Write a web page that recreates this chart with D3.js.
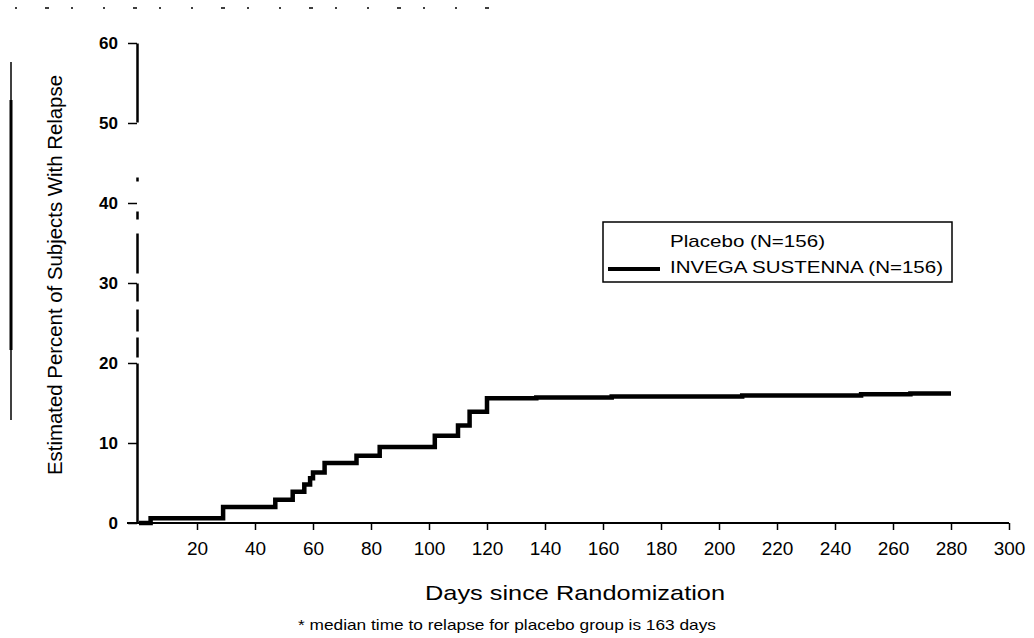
<!DOCTYPE html>
<html>
<head>
<meta charset="utf-8">
<script src="https://cdn.jsdelivr.net/npm/d3@7"></script>
<style>
  body { margin: 0; background: #fff; }
  text { font-family: Arial, "Liberation Sans", sans-serif; fill: #000; }
</style>
</head>
<body>
<div id="chart"></div>
<script>
// Kaplan-Meier steps (only the INVEGA curve is visible)
const days = [0, 4, 29, 47, 53, 57, 59, 60, 64, 75, 83, 102, 110, 114, 120, 137, 163, 208, 249, 266, 280];
const relapsePct = [0, 0.6, 2.0, 2.9, 3.9, 4.8, 5.6, 6.3, 7.5, 8.4, 9.5, 10.9, 12.2, 13.9, 15.6, 15.7, 15.8, 15.95, 16.1, 16.2, 16.2];

const xTicks = [20, 40, 60, 80, 100, 120, 140, 160, 180, 200, 220, 240, 260, 280, 300];
const yTicks = [0, 10, 20, 30, 40, 50, 60];
const legendLabels = ["Placebo (N=156)", "INVEGA SUSTENNA (N=156)"];

const width = 1034;
const height = 638;

const svg = d3.select("#chart")
    .append("svg")
    .attr("width", width)
    .attr("height", height);

const xScale = d3.scaleLinear()
    .domain([0, 300])
    .range([139, 1009]);

const yScale = d3.scaleLinear()
    .domain([0, 60])
    .range([523, 43]);

// scan artefacts: dotted header row and left margin rule
svg.append("line")
    .attr("x1", 15).attr("x2", 490)
    .attr("y1", 8).attr("y2", 8)
    .attr("stroke", "#000")
    .attr("stroke-width", 1.5)
    .attr("stroke-dasharray", "2 28 4 22 2 30");
svg.append("line")
    .attr("x1", 11).attr("x2", 11)
    .attr("y1", 62).attr("y2", 420)
    .attr("stroke", "#000")
    .attr("stroke-width", 1.5);
svg.append("line")
    .attr("x1", 11).attr("x2", 11)
    .attr("y1", 100).attr("y2", 350)
    .attr("stroke", "#000")
    .attr("stroke-width", 3);

// y axis
const yAxis = d3.axisLeft(yScale)
    .tickValues(yTicks)
    .tickSize(9)
    .tickSizeOuter(0)
    .tickPadding(10);

const gy = svg.append("g")
    .attr("class", "y-axis")
    .attr("transform", "translate(137,0)")
    .call(yAxis);
gy.select(".domain")
    .attr("stroke-width", 2.5)
    .attr("stroke-dasharray", "160 6 20 6 22 8 18 10 40 14 8 30 4 55 200");
gy.selectAll(".tick line").attr("stroke-width", 1.5);
gy.selectAll(".tick text")
    .style("font-size", "17px")
    .style("font-weight", "bold")
    .attr("font-family", null);

// x axis
svg.append("line")
    .attr("x1", 127).attr("x2", xScale(300))
    .attr("y1", yScale(0)).attr("y2", yScale(0))
    .attr("stroke", "#000")
    .attr("stroke-width", 2);

const xAxis = d3.axisBottom(xScale)
    .tickValues(xTicks)
    .tickSize(7)
    .tickSizeOuter(0)
    .tickPadding(12);

const gx = svg.append("g")
    .attr("class", "x-axis")
    .attr("transform", `translate(0,${yScale(0)})`)
    .call(xAxis);
gx.select(".domain").remove();
gx.selectAll(".tick line").attr("stroke-width", 1.5);
gx.selectAll(".tick text")
    .style("font-size", "19px")
    .attr("font-family", null);

// axis titles and note
svg.append("text")
    .attr("x", 575)
    .attr("y", 600)
    .attr("text-anchor", "middle")
    .attr("textLength", 300)
    .attr("lengthAdjust", "spacingAndGlyphs")
    .style("font-size", "21px")
    .text("Days since Randomization");

svg.append("text")
    .attr("x", 298)
    .attr("y", 630)
    .attr("textLength", 418)
    .attr("lengthAdjust", "spacingAndGlyphs")
    .style("font-size", "15px")
    .text("* median time to relapse for placebo group is 163 days");

svg.append("text")
    .attr("transform", "translate(62,275) rotate(-90)")
    .attr("text-anchor", "middle")
    .attr("textLength", 400)
    .attr("lengthAdjust", "spacingAndGlyphs")
    .style("font-size", "21px")
    .text("Estimated Percent of Subjects With Relapse");

// step curve
const line = d3.line()
    .x((d, i) => xScale(days[i]))
    .y(d => yScale(d))
    .curve(d3.curveStepAfter);

svg.append("path")
    .datum(relapsePct)
    .attr("fill", "none")
    .attr("stroke", "#000")
    .attr("stroke-width", 4.5)
    .attr("d", line);

// legend
const legend = svg.append("g").attr("transform", "translate(603,222)");
legend.append("rect")
    .attr("width", 349)
    .attr("height", 60)
    .attr("fill", "none")
    .attr("stroke", "#000")
    .attr("stroke-width", 1.5);
legend.append("line")
    .attr("x1", 5).attr("x2", 57)
    .attr("y1", 47).attr("y2", 47)
    .attr("stroke", "#000")
    .attr("stroke-width", 4);
const legendWidths = [155, 273];
legend.selectAll(".lg")
    .data(legendLabels)
    .enter()
    .append("text")
    .attr("class", "lg")
    .attr("x", 67)
    .attr("y", (d, i) => 25 + i * 26)
    .attr("textLength", (d, i) => legendWidths[i])
    .attr("lengthAdjust", "spacingAndGlyphs")
    .style("font-size", "17px")
    .text(d => d);
</script>
</body>
</html>
